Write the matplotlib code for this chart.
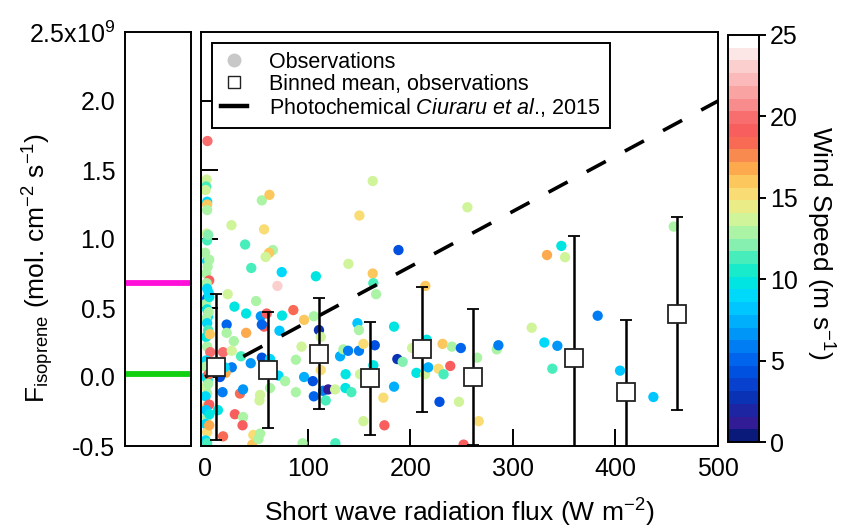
import matplotlib
matplotlib.use("Agg")
import matplotlib.pyplot as plt
from matplotlib.colors import LinearSegmentedColormap, Normalize
from matplotlib.cm import ScalarMappable
from matplotlib.lines import Line2D

plt.rcParams["font.family"] = ["Liberation Sans", "DejaVu Sans"]
plt.rcParams["mathtext.fontset"] = "custom"
plt.rcParams["mathtext.rm"] = "Liberation Sans"
plt.rcParams["mathtext.it"] = "Liberation Sans:italic"

# observations: short-wave flux (W m-2), isoprene flux (1e9 mol cm-2 s-1), wind speed (m s-1)
obs_flux = [
    2.3, 1.5, 1.0, 0.5, 2.0, 2.0, 2.0, 1.5, 2.0, 2.0, 2.5, 1.0, 4.0, 1.5, 2.0,
    2.0, 1.0, 2.0, 3.0, 1.0, 2.0, 3.0, 1.0, 2.0, 5.0, 1.0, 0.5, 1.0, 2.5, 1.0,
    2.0, 0.5, 2.0, 2.0, 0.5, 2.0, 0.5, 2.0, 4.0, 3.5, 4.5, 3.5, 4.0, 3.0, 3.5,
    0.0, 4.0, 3.0, 4.0, 1.0, 4.2,
    22.0, 28.6, 21.0, 21.0, 28.0, 17.5, 26.0, 35.0, 26.0, 20.0, 17.0, 12.5,
    29.0, 37.0, 36.5, 17.5, 34.0, 37.0, 47.0, 46.0, 52.0, 53.0, 40.0, 44.5,
    25.7, 55.3, 62.7, 57.5, 39.0, 66.0, 62.4, 59.0, 45.0, 74.7, 70.5, 108.0,
    49.7, 40.0, 54.3, 60.0, 57.5, 55.3, 75.0, 72.5, 86.0, 96.5, 106.0, 111.0,
    112.8, 55.3, 63.3, 71.5, 78.0, 88.5, 94.0, 96.5, 88.5, 105.0, 106.0, 115.0,
    120.0, 126.7, 117.6, 112.7, 131.6, 134.8, 139.4, 137.0, 136.8, 142.6,
    148.5, 150.0, 150.0, 154.3, 165.4, 164.0, 151.0, 154.3, 174.8, 173.8,
    184.2, 184.2, 187.4, 192.6, 163.4, 150.4, 139.7, 188.5, 163.4, 164.0,
    166.7, 214.7, 255.7, 95.0, 127.0, 53.6, 53.6, 63.3, 14.5, 19.0,
    201.8, 206.0, 214.4, 216.0, 217.5, 228.5, 227.5, 231.5, 232.5, 239.0,
    240.6, 249.3, 247.5, 252.0, 265.2, 266.7, 284.3, 285.9, 318.4, 330.7,
    343.4, 338.5, 333.3, 347.3, 350.9, 382.7, 404.5, 437.0, 456.8,
]
obs_fiso = [
    1.71, 1.43, 1.38, 1.355, 1.27, 1.25, 1.21, 1.04, 0.99, 0.84, 0.80, 0.75,
    0.70, 0.68, 0.64, 0.57, 0.53, 0.49, 0.44, 0.42, 0.39, 0.34, 0.29, 0.22,
    0.18, 0.12, 0.075, 0.00, -0.02, -0.07, -0.12, -0.14, -0.21, -0.29, -0.34,
    -0.40, -0.46, -0.48, 0.58, 0.47, 0.31, 0.02, -0.20, -0.05, 0.61, 0.90,
    0.85, 1.03, -0.35, -0.24, -0.27,
    0.60, 0.51, 0.38, 0.32, 0.26, 0.18, 0.19, 0.15, 0.07, 0.03, -0.11, -0.24,
    -0.27, -0.29, -0.35, -0.43, -0.12, -0.09, -0.42, -0.49, -0.45, -0.17,
    0.32, 0.10, 1.10, 1.28, 1.32, 1.07, 0.96, 0.92, 0.90, 0.87, 0.79, 0.76,
    0.66, 0.73, 0.55, 0.46, 0.44, 0.46, 0.365, 0.38, 0.445, 0.335, 0.485,
    0.414, 0.44, 0.34, 0.29, 0.14, 0.13, 0.01, -0.03, 0.125, 0.22, 0.00,
    -0.11, -0.03, -0.14, -0.10, -0.09, -0.09, -0.17, 0.05, 0.15, 0.20, 0.19,
    0.02, -0.08, -0.11, 0.39, 0.34, 0.19, 0.24, 0.23, 0.085, 0.02, -0.32,
    -0.35, -0.15, -0.07, 0.365, 0.13, 0.11, 1.42, 1.17, 0.82, 0.92, 0.75,
    0.68, 0.60, 0.66, 1.23, -0.48, -0.48, -0.13, -0.41, -0.08, 0.00, 0.07,
    0.21, 0.03, 0.02, 0.27, 0.07, -0.18, 0.06, 0.24, 0.02, 0.08, 0.22, 0.21,
    -0.18, -0.49, 0.14, -0.32, 0.20, 0.23, 0.357, 0.25, 0.226, 0.06, 0.884,
    0.95, 0.868, 0.444, 0.046, -0.145, 1.09,
]
obs_wind = [
    20, 14, 11.5, 14, 9, 16, 13, 14, 11.5, 9, 13, 13, 19, 12.5, 9, 5, 13, 10,
    9, 12.5, 9, 11.5, 9.5, 13, 20, 9, 13, 9, 9.5, 14, 13, 9, 16, 13, 9, 15, 9,
    11.5, 10, 12.5, 16, 18, 19, 12.5, 9, 12.5, 12.5, 12, 17, 8, 10,
    14, 10, 5, 12.5, 12.5, 20, 14, 11, 5.5, 17, 6, 10, 19, 13, 19, 18, 18, 7,
    15.5, 16, 13, 14, 17, 7, 14, 13, 16, 15, 11.5, 13, 16, 14, 11.5, 9, 23,
    10, 13, 9.5, 7, 19.5, 19, 5, 10, 8, 18, 16, 13, 3, 14, 4, 9, 9, 12.5,
    12.5, 14, 7.5, 12.5, 4, 5, 5.5, 1, 14, 11, 15, 7.5, 13, 6, 10, 10, 11.5,
    8.5, 13, 6, 15, 4, 10, 14, 14, 19, 15.5, 7.5, 10, 3, 12, 14, 15, 14, 4,
    16, 11.5, 13, 16, 14, 12.5, 11.5, 14, 13, 13, 4, 9,
    14, 10, 14, 10, 7.5, 4, 15.5, 16, 11.5, 19, 13, 5, 14, 19, 13, 15.5, 13,
    6, 14, 9, 7, 11.5, 17, 10, 14, 6, 8.5, 8.5, 13,
]

# binned means with standard deviation
bin_flux = [11, 61, 111, 161, 211, 261, 360, 410, 460]
bin_mean = [0.07, 0.05, 0.17, -0.01, 0.20, 0.00, 0.14, -0.11, 0.46]
bin_std = [0.53, 0.42, 0.40, 0.41, 0.45, 0.49, 0.88, 0.52, 0.70]

# photochemical parameterisation (Ciuraru et al., 2015)
model_flux = [0, 500]
model_fiso = [0.0, 2.0]

# reference levels shown in the left panel
level_magenta = 0.68
level_green = 0.02

wind_ticks = [0, 5, 10, 15, 20, 25]
wind_colors = [
    "#0a1a7a", "#3a1c9c", "#0a2aa8", "#0a3cc8", "#0050e0", "#0068ee",
    "#0088f4", "#00a8fa", "#00c4ff", "#00dcf8", "#00ead8", "#30ecc0",
    "#80f0b0", "#b0f4a4", "#dcf494", "#f8e47c", "#fccc60", "#fca84c",
    "#f88050", "#f85858", "#f86868", "#f88c8c", "#faaaaa", "#fcc4c4",
    "#fde0e0", "#ffffff",
]

cmap = LinearSegmentedColormap.from_list(
    "wind", [(i / 25, c) for i, c in enumerate(wind_colors)], N=32
)
norm = Normalize(0, 25)

W, H = 843, 531
fig = plt.figure(figsize=(W / 100, H / 100), dpi=100)


def frac(x0, y0, x1, y1):
    return [x0 / W, 1 - y1 / H, (x1 - x0) / W, (y1 - y0) / H]


ax_side = fig.add_axes(frac(125, 32, 191, 446))
ax = fig.add_axes(frac(201, 32, 718, 446))
cax = fig.add_axes(frac(728, 35, 759, 442))

lw_spine = 1.4
for a in (ax_side, ax, cax):
    for s in a.spines.values():
        s.set_linewidth(lw_spine)

# left panel
ax_side.axhline(level_magenta, color="#ff10d8", lw=4.2)
ax_side.axhline(level_green, color="#10d010", lw=4.2)
ax_side.set_ylim(-0.5, 2.5)
ax_side.set_xticks([])
ax_side.set_yticks([-0.5, 0.0, 0.5, 1.0, 1.5, 2.0, 2.5])
ax_side.set_yticklabels(["-0.5", "0.0", "0.5", "1.0", "1.5", "2.0", r"2.5x10$^{9}$"])
ax_side.tick_params(axis="y", length=0, pad=7, labelsize=18)

# main panel
ax.scatter(obs_flux, obs_fiso, c=obs_wind, cmap=cmap, norm=norm, s=55,
           linewidths=0, zorder=2)
ax.plot(model_flux, model_fiso, color="black", lw=2.6, dashes=(6, 6), zorder=3)
ax.errorbar(bin_flux, bin_mean, yerr=bin_std, fmt="s", ms=12.5, mfc="white",
            mec="#222222", mew=1.3, ecolor="black", elinewidth=1.8,
            capsize=4.5, capthick=1.8, zorder=4)

ax.set_xlim(-4, 500)
ax.set_ylim(-0.5, 2.5)
ax.set_xticks([0, 100, 200, 300, 400, 500])
ax.set_yticks([-0.5, 0.0, 0.5, 1.0, 1.5, 2.0])
ax.tick_params(axis="both", direction="in", length=12, width=1.4, labelsize=18)
ax.tick_params(axis="y", labelleft=False)
ax.tick_params(axis="x", pad=8)
ax.set_xlabel(r"Short wave radiation flux (W m$^{-2}$)", fontsize=19,
              labelpad=11)

handles = [
    Line2D([], [], ls="none", marker="o", ms=10, mfc="#c8c8c8", mec="none"),
    Line2D([], [], ls="none", marker="s", ms=9, mfc="white", mec="#222222", mew=1.0),
    Line2D([], [], color="black", lw=3.2),
]
labels = [
    "Observations",
    "Binned mean, observations",
    r"Photochemical $\mathit{Ciuraru\ et\ al.}\!$, 2015",
]
leg = ax.legend(handles, labels, loc="upper left", fontsize=15.5, frameon=True,
                fancybox=False, edgecolor="black", framealpha=1,
                handlelength=1.2, handletextpad=1.05, labelspacing=0.05,
                borderpad=0.42, borderaxespad=0.5)
leg.get_frame().set_linewidth(1.4)
leg.set_zorder(5)

fig.text(38 / W, 1 - 268 / H,
         r"F$_{\mathrm{isoprene}}$ (mol. cm$^{-2}$ s$^{-1}$)",
         ha="center", va="center", rotation=90, fontsize=19)

# colour bar
cb = fig.colorbar(ScalarMappable(norm=norm, cmap=cmap), cax=cax)
cb.set_ticks(wind_ticks)
cb.outline.set_linewidth(lw_spine)
cax.tick_params(length=5, width=1.4, labelsize=18, pad=3)
fig.text(820 / W, 1 - 243 / H, r"Wind Speed (m s$^{-1}$)", ha="center",
         va="center", rotation=270, fontsize=19)

fig.savefig("out.png", dpi=100)
